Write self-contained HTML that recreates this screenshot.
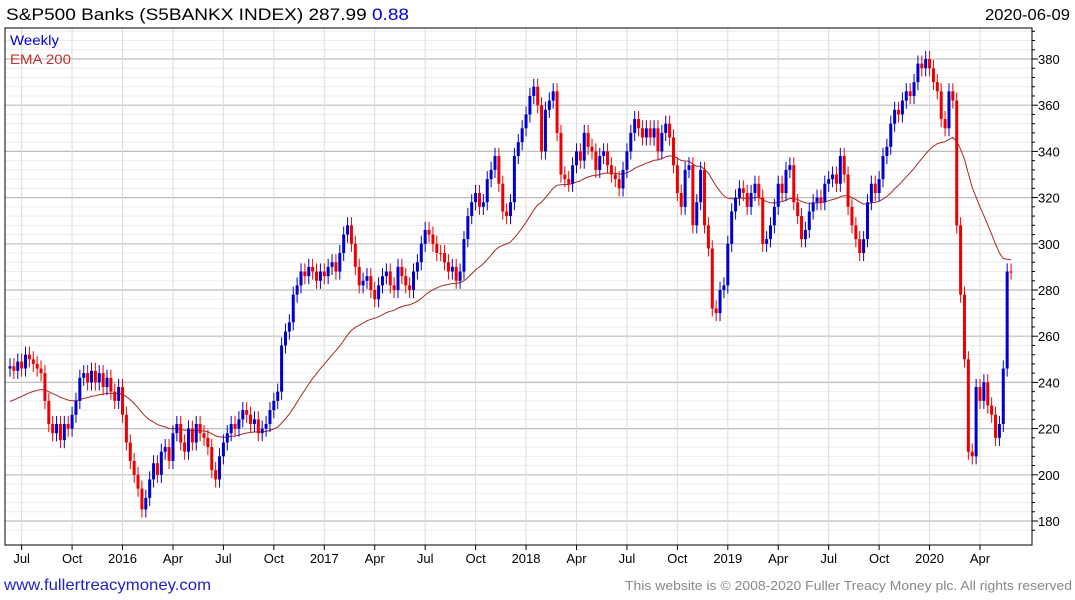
<!DOCTYPE html>
<html><head><meta charset="utf-8"><style>
body{margin:0;background:#fff;font-family:"Liberation Sans",sans-serif;}
svg{display:block}
</style></head><body>
<svg id="c" width="1075" height="600" xmlns="http://www.w3.org/2000/svg">
<text x="6" y="20" font-size="17" textLength="403" lengthAdjust="spacingAndGlyphs" fill="#000">S&amp;P500 Banks  (S5BANKX INDEX) 287.99 <tspan fill="#0000dd">0.88</tspan></text>
<text x="1070" y="20" font-size="16" text-anchor="end" textLength="85" lengthAdjust="spacingAndGlyphs" fill="#000">2020-06-09</text>
<g id="grid"></g>
<g id="ema"></g>
<g id="candles"></g>
<rect x="5" y="28" width="1027" height="517" fill="none" stroke="#000" stroke-width="1"/>
<g id="axes"></g>
<text x="10" y="45" font-size="14" textLength="49" lengthAdjust="spacingAndGlyphs" fill="#0000dd">Weekly</text>
<text x="10" y="64" font-size="14" textLength="61" lengthAdjust="spacingAndGlyphs" fill="#c03030">EMA 200</text>
<text x="4" y="590" font-size="16" textLength="207" lengthAdjust="spacingAndGlyphs" fill="#2020cc">www.fullertreacymoney.com</text>
<text x="1072" y="590" font-size="13" text-anchor="end" textLength="447" lengthAdjust="spacingAndGlyphs" fill="#888">This website is © 2008-2020 Fuller Treacy Money plc. All rights reserved</text>
</svg>
<script>
const closes = [
247,245,249,246,252,250,248,246,244,232,222,218,222,215,222,220,
226,232,242,244,240,245,240,244,238,242,236,232,238,
226,214,206,200,194,185,190,198,205,200,210,212,206,
218,222,214,210,220,214,222,218,216,212,202,198,208,
214,218,222,220,224,228,226,222,224,218,220,222,228,
232,236,256,262,266,278,282,288,286,290,288,284,288,
286,290,292,288,296,304,308,300,290,282,284,286,280,
276,282,286,288,282,280,290,286,282,280,288,292,300,
306,304,300,296,296,292,288,290,284,288,302,312,318,
322,316,318,328,332,338,326,314,312,318,338,344,350,
356,364,368,360,340,358,362,366,348,330,328,326,334,
340,336,348,342,340,332,338,340,334,330,328,324,332,
340,348,354,350,346,350,346,350,340,348,352,346,334,
322,316,332,334,308,318,332,308,298,272,270,280,282,
300,314,320,324,322,316,322,326,320,300,302,308,316,
326,322,332,334,318,312,302,306,314,318,320,318,326,
328,330,326,338,330,316,308,302,296,302,318,326,322,
328,338,342,352,358,356,362,366,364,370,378,376,380,
376,370,366,354,350,366,362,308,278,250,210,208,238,
232,240,230,226,216,222,246,288,288];
const firstOpen = 246;
const emaSeed = 231;
const yTicks = [180,200,220,240,260,280,300,320,340,360,380];
const xLabels = ["Jul","Oct","2016","Apr","Jul","Oct","2017","Apr","Jul","Oct","2018","Apr","Jul","Oct","2019","Apr","Jul","Oct","2020","Apr"];
const xLabelWeek = [3,16,29,42,55,68,81,94,107,120,133,146,159,172,185,198,211,224,237,250];

const NS="http://www.w3.org/2000/svg";
const L=5,R=1032,T=28,B=545;
const x=i=>10+i*3.88;
const y=v=>521-(v-180)*2.31;
function mk(tag,attrs,parent){const e=document.createElementNS(NS,tag);for(const k in attrs)e.setAttribute(k,attrs[k]);parent.appendChild(e);return e;}
const grid=document.getElementById('grid'),axes=document.getElementById('axes'),cg=document.getElementById('candles'),eg=document.getElementById('ema');
for(let v=176;v<=392;v+=4){const yy=y(v);if(yy<T||yy>B)continue;const major=v%20===0;
 const ln=mk('line',{x1:L,x2:R,y1:yy,y2:yy,stroke:major?'#bdbdbd':'#ececec','stroke-width':major?1.2:1},grid);
 
 
 const tk=mk('line',{x1:R,x2:R+(major?6:3),y1:yy,y2:yy,stroke:'#000'},axes);
 
 }
yTicks.forEach(v=>{const t=mk('text',{x:R+6,y:y(v)+5,'font-size':13,fill:'#000'},axes);t.textContent=v;
 
 });
xLabels.forEach((s,k)=>{const xx=x(xLabelWeek[k]);
 const g=mk('line',{x1:xx,x2:xx,y1:T,y2:B,stroke:'#dcdcdc'},grid);
 
 
 const tk=mk('line',{x1:xx,x2:xx,y1:B,y2:B+5,stroke:'#000'},axes);
 
 
 const t=mk('text',{x:xx,y:B+18,'font-size':13,'text-anchor':'middle',fill:'#000'},axes);t.textContent=s;
 
 });
let e=emaSeed,pts=[];const a=2/41;
closes.forEach((c,i)=>{e=e+a*(c-e);pts.push(x(i).toFixed(1)+','+y(e).toFixed(1));});
const pl=mk('polyline',{points:pts.join(' '),fill:'none',stroke:'#a52a2a','stroke-width':1},eg);


closes.forEach((c,i)=>{const o=i?closes[i-1]:firstOpen;const up=c>o;const col=up?'#0000cc':'#ee0000';
 const hi=Math.max(o,c)+3.5,lo=Math.min(o,c)-3.5;const xx=x(i);
 const w=mk('line',{x1:xx,x2:xx,y1:y(hi),y2:y(lo),stroke:col,'stroke-width':1},cg);
 
 
 const top=y(Math.max(o,c)),h=Math.max(1,y(Math.min(o,c))-top);
 const r=mk('rect',{x:xx-1.5,y:top,width:3,height:h,fill:col},cg);
 
 });
</script>
</body></html>
